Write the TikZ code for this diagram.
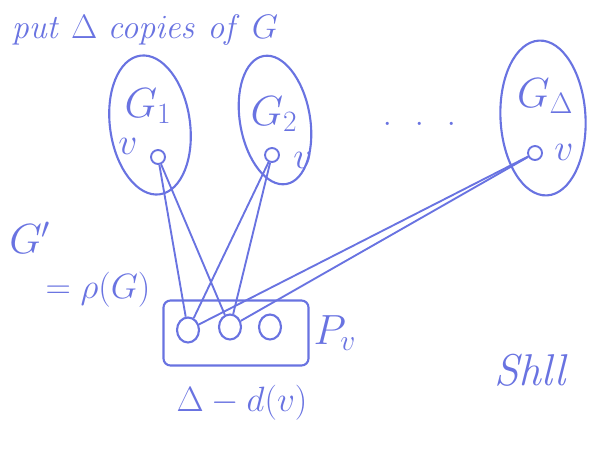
\RequirePackage{fix-cm}
\documentclass[tikz,border=0pt]{standalone}
\usetikzlibrary{shapes.geometric,positioning}
\definecolor{ink}{RGB}{105,115,225}
\begin{document}
\begin{tikzpicture}[x=0.03cm,y=-0.03cm, every node/.style={font=\fontsize{26}{30}\selectfont, text=ink},
    copy/.style={draw=ink, line width=1.8pt, ellipse},
    vtx/.style={draw=ink, line width=1.6pt, circle, minimum size=0.42cm, inner sep=0pt},
    slot/.style={draw=ink, line width=1.8pt, ellipse, minimum width=0.66cm, minimum height=0.75cm, inner sep=0pt},
    wire/.style={draw=ink, line width=1.6pt},
    vname/.style={font=\fontsize{32}{36}\selectfont, inner sep=1pt},
    big/.style={font=\fontsize{36}{40}\selectfont}]
    \useasboundingbox (0,0) rectangle (596,450);
    \node[font=\fontsize{29}{33}\selectfont] (title) at (145,30) {$\mathit{put}$ $\Delta$ $\mathit{copies}$ $\mathit{of}$ $G$};
    % the copies of G
    \node[copy, rotate=8, minimum width=2.4cm, minimum height=4.2cm] (g1) at (150,125) {};
    \node[copy, rotate=10, minimum width=2.1cm, minimum height=3.9cm] (g2) at (275,120) {};
    \node[copy, rotate=3, minimum width=2.55cm, minimum height=4.65cm] (gd) at (543,118) {};
    \node[big] (g1l) at (148,106) {$G_1$};
    \node[big] (g2l) at (274,114) {$G_2$};
    \node[big] (gdl) at (545,96) {$G_\Delta$};
    \node[vtx] (v1) at (158,157) {};
    \node[vtx] (v2) at (272,155) {};
    \node[vtx] (vd) at (535,153) {};
    \node[vname] (v1l) at (128,146) {$v$};
    \node[vname] (v2l) at (303,160) {$v$};
    \node[vname] (vdl) at (564,152) {$v$};
    \node (dots) at (420,125) {$\cdot\;\;\cdot\;\;\cdot$};
    \node[big] (gp) at (30,238) {$G'$};
    \node[font=\fontsize{30}{34}\selectfont] (rho) at (98,290) {$=\rho(G)$};
    % the new vertices P_v
    \node[draw=ink, line width=1.8pt, rounded corners=6pt, minimum width=4.35cm, minimum height=1.95cm] (pbox) at (236,333) {};
    \node[slot] (p1) at (188,330) {};
    \node[slot] (p2) at (230,327) {};
    \node[slot] (p3) at (270,327) {};
    \node[big, right=0pt of pbox] (pv) {$P_v$};
    \node[font=\fontsize{30}{34}\selectfont] (cnt) at (242,403) {$\Delta - d(v)$};
    \node[font=\fontsize{38}{42}\selectfont] (shll) at (532,370) {$\mathit{Shll}$};
    \foreach \g in {v1,v2,vd} {
        \draw[wire] (\g) -- (p1);
        \draw[wire] (\g) -- (p2);
    }
\end{tikzpicture}
\end{document}
